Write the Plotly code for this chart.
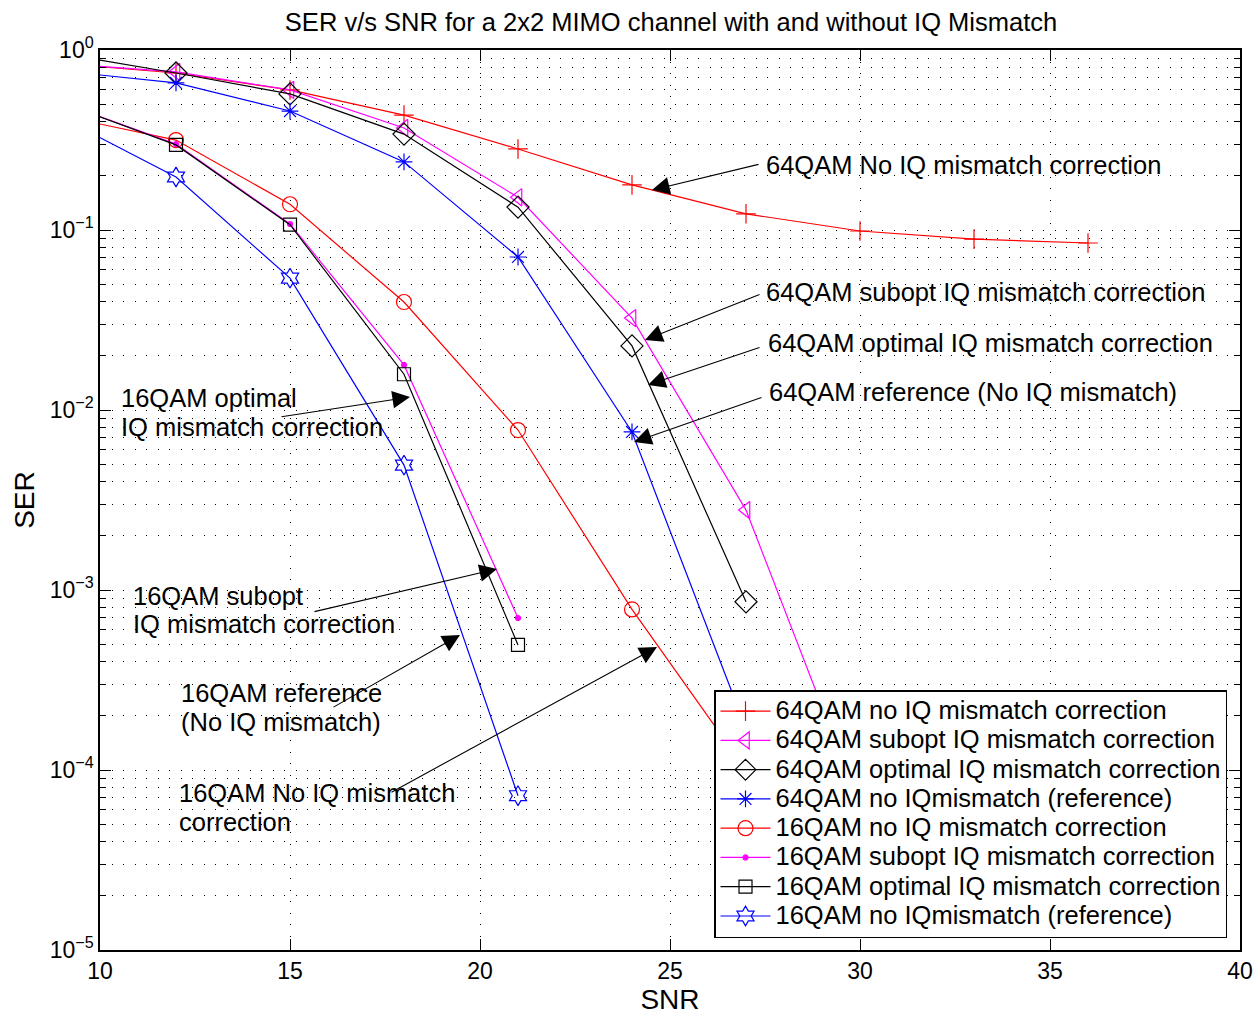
import plotly.graph_objects as go

# ---- data: SER versus SNR (dB) ----
snr_64_nocorr = [9, 12, 15, 18, 21, 24, 27, 30, 33, 36]
ser_64_nocorr = [0.84, 0.745, 0.60, 0.435, 0.282, 0.178, 0.123, 0.0987, 0.089, 0.0847]

snr_64_subopt = [9, 12, 15, 18, 21, 24, 27, 30]
ser_64_subopt = [0.84, 0.755, 0.60, 0.369, 0.152, 0.0324, 0.00278, 6.4e-5]

snr_64_opt = [9, 12, 15, 18, 21, 24, 27]
ser_64_opt = [0.956, 0.745, 0.57, 0.341, 0.134, 0.0227, 8.6e-4]

snr_64_ref = [9, 12, 15, 18, 21, 24, 27]
ser_64_ref = [0.764, 0.656, 0.458, 0.239, 0.0708, 0.00755, 1.7e-4]

snr_16_nocorr = [9, 12, 15, 18, 21, 24, 27]
ser_16_nocorr = [0.43, 0.316, 0.139, 0.0398, 0.00774, 7.8e-4, 1.0e-4]

snr_16_subopt = [9, 12, 15, 18, 21]
ser_16_subopt = [0.508, 0.30, 0.108, 0.0178, 6.99e-4]

snr_16_opt = [9, 12, 15, 18, 21]
ser_16_opt = [0.508, 0.297, 0.107, 0.0158, 4.95e-4]

snr_16_ref = [9, 12, 15, 18, 21]
ser_16_ref = [0.419, 0.197, 0.054, 0.00494, 7.2e-5]

x_ticks = [10, 15, 20, 25, 30, 35, 40]
y_ticks = [1, 1e-1, 1e-2, 1e-3, 1e-4, 1e-5]
y_ticklabels = ["10<sup>0</sup>", "10<sup>\u22121</sup>", "10<sup>\u22122</sup>",
                "10<sup>\u22123</sup>", "10<sup>\u22124</sup>", "10<sup>\u22125</sup>"]

FONT = "Liberation Sans, Arial, Helvetica, sans-serif"
RED, MAG, BLK, BLU = "#ff0000", "#ff00ff", "#000000", "#0000ff"

series = [
    ("64QAM no IQ mismatch correction", snr_64_nocorr, ser_64_nocorr, RED, "cross-thin", 14),
    ("64QAM subopt IQ mismatch correction", snr_64_subopt, ser_64_subopt, MAG, "triangle-left-open", 15),
    ("64QAM optimal IQ mismatch correction", snr_64_opt, ser_64_opt, BLK, "diamond-open", 17),
    ("64QAM no IQmismatch (reference)", snr_64_ref, ser_64_ref, BLU, "asterisk-open", 14),
    ("16QAM no IQ mismatch correction", snr_16_nocorr, ser_16_nocorr, RED, "circle-open", 15),
    ("16QAM subopt IQ mismatch correction", snr_16_subopt, ser_16_subopt, MAG, "circle", 5),
    ("16QAM optimal IQ mismatch correction", snr_16_opt, ser_16_opt, BLK, "square-open", 13),
    ("16QAM no IQmismatch (reference)", snr_16_ref, ser_16_ref, BLU, "hexagram-open", 15),
]

# legend rows are spaced by the legend font; the entry text itself is drawn larger
LEGEND_TEXT = "<span style='font-size:25.5px'>{}</span>"

fig = go.Figure()
for name, xs, ys, col, sym, size in series:
    fig.add_trace(go.Scatter(
        x=xs, y=ys, name=LEGEND_TEXT.format(name), mode="lines+markers",
        line=dict(color=col, width=1.2),
        marker=dict(symbol=sym, size=size, color=col,
                    line=dict(color=col, width=1.2)),
    ))

# minor log ticks (2..9 in every decade)
minor_vals = [m * 10.0 ** e for e in range(-5, 0) for m in range(2, 10)]
GRID_DASH = "1px,10.5px"

fig.update_layout(
    width=1255, height=1015,
    margin=dict(l=100, r=15, t=50, b=65, autoexpand=False),
    paper_bgcolor="white", plot_bgcolor="white",
    font=dict(family=FONT, size=23, color="black"),
    title=dict(text="SER v/s SNR for a 2x2 MIMO channel with and without IQ Mismatch",
               x=0.5347, xanchor="center", y=0.978, yanchor="middle",
               font=dict(size=25.5)),
    showlegend=True,
    legend=dict(x=0.9886, xanchor="right", y=0.0133, yanchor="bottom",
                bgcolor="white", bordercolor="black", borderwidth=1.5,
                font=dict(size=20.2), itemwidth=50, tracegroupgap=0),
)

fig.update_xaxes(
    range=[10, 40], tickvals=x_ticks, ticks="inside", ticklen=11, tickwidth=1,
    tickcolor="black", showline=True, linecolor="black", linewidth=1.5, mirror="ticks",
    showgrid=True, gridcolor="black", gridwidth=1.2, griddash=GRID_DASH,
    zeroline=False, automargin=False, title=dict(text="SNR", standoff=8),
)

fig.update_yaxes(
    type="log", range=[-5, 0], tickvals=y_ticks, ticktext=y_ticklabels,
    ticks="inside", ticklen=11, tickwidth=1, tickcolor="black",
    showline=True, linecolor="black", linewidth=1.5, mirror="ticks",
    showgrid=True, gridcolor="black", gridwidth=1.2, griddash=GRID_DASH,
    zeroline=False, automargin=False, title=dict(text="SER", standoff=7),
    minor=dict(tickvals=minor_vals, ticks="inside", ticklen=6, tickcolor="black",
               showgrid=True, gridcolor="black", gridwidth=1.2, griddash=GRID_DASH),
)

# callout labels (one annotation per text line)
labels = [
    ("64QAM No IQ mismatch correction", 27.50, -0.639),
    ("64QAM subopt IQ mismatch correction", 27.50, -1.344),
    ("64QAM optimal IQ mismatch correction", 27.55, -1.628),
    ("64QAM reference (No IQ mismatch)", 27.58, -1.900),
    ("16QAM optimal", 10.53, -1.933),
    ("IQ mismatch correction", 10.53, -2.094),
    ("16QAM subopt", 10.84, -3.033),
    ("IQ mismatch correction", 10.84, -3.189),
    ("16QAM reference", 12.10, -3.572),
    ("(No IQ mismatch)", 12.10, -3.733),
    ("16QAM No IQ mismatch", 12.05, -4.128),
    ("correction", 12.05, -4.289),
]
for txt, lx, ly in labels:
    fig.add_annotation(x=lx, y=ly, xref="x", yref="y", text=txt, showarrow=False,
                       xanchor="left", yanchor="middle", font=dict(size=25.5),
                       borderpad=0)

# arrows: head in data units (log10 for y), tail offset in pixels
arrows = [
    (24.526, -0.7778, 108, -26),
    (24.342, -1.6111, 116, -46),
    (24.421, -1.8611, 113, -38),
    (24.053, -2.1778, 129, -45),
    (18.158, -1.9278, -130, 20),
    (20.447, -2.8833, -184, 43),
    (19.474, -3.2500, -128, 73),
    (24.658, -3.3167, -267, 146),
]
for hx, hy, ax, ay in arrows:
    fig.add_annotation(x=hx, y=hy, xref="x", yref="y", ax=ax, ay=ay, text="",
                       showarrow=True, arrowhead=2, arrowsize=3.2, arrowwidth=1.1,
                       arrowcolor="black", standoff=0, startstandoff=0)

fig.write_html("out.html")
